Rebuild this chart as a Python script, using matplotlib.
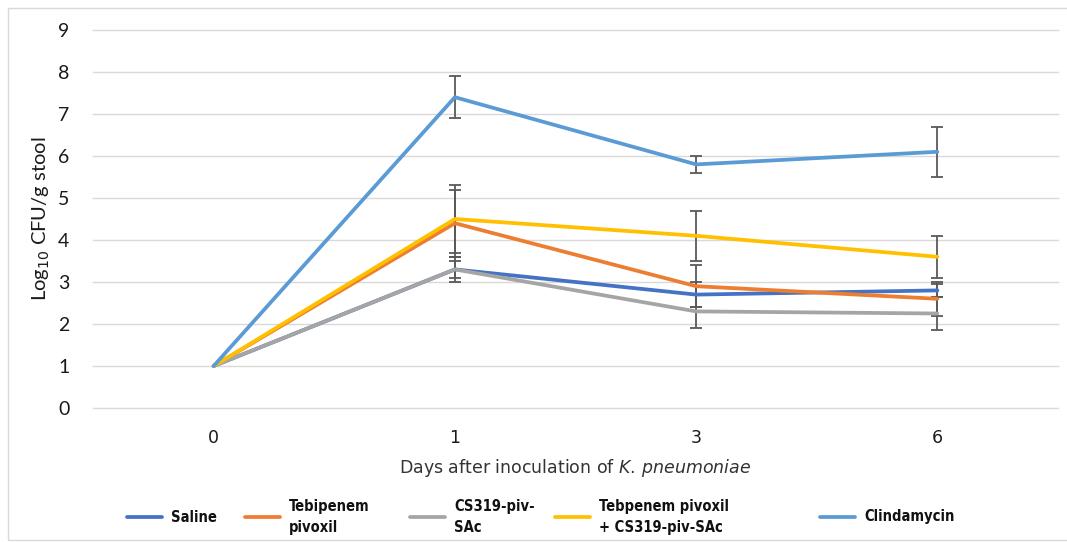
import matplotlib.pyplot as plt
import numpy as np
from matplotlib.lines import Line2D
from matplotlib.patches import Rectangle
from matplotlib import font_manager

days = ["0", "1", "3", "6"]

series_names = ["Saline", "Tebipenem\npivoxil", "CS319-piv-\nSAc",
                "Tebpenem pivoxil\n+ CS319-piv-SAc", "Clindamycin"]
saline = [1.0, 3.3, 2.7, 2.8]
saline_err = [0.0, 0.2, 0.3, 0.15]
tebipenem = [1.0, 4.4, 2.9, 2.6]
tebipenem_err = [0.0, 0.8, 0.5, 0.4]
cs319 = [1.0, 3.3, 2.3, 2.25]
cs319_err = [0.0, 0.3, 0.4, 0.4]
combo = [1.0, 4.5, 4.1, 3.6]
combo_err = [0.0, 0.8, 0.6, 0.5]
clinda = [1.0, 7.4, 5.8, 6.1]
clinda_err = [0.0, 0.5, 0.2, 0.6]

colors = ["#4472C4", "#ED7D31", "#A5A5A5", "#FFC000", "#5B9BD5"]
values = [saline, tebipenem, cs319, combo, clinda]
errors = [saline_err, tebipenem_err, cs319_err, combo_err, clinda_err]

names = {f.name for f in font_manager.fontManager.ttflist}
legend_family = "Liberation Sans Narrow" if "Liberation Sans Narrow" in names else "DejaVu Sans"

W, H = 1067, 542
fig = plt.figure(figsize=(W / 100, H / 100), dpi=100)
fig.add_artist(Rectangle((8 / W, 2 / H), 1.2, 1 - 10 / H, transform=fig.transFigure,
                         fill=False, edgecolor="#D9D9D9", linewidth=1.0))

ax = fig.add_axes([93 / W, 1 - 408 / H, 965 / W, 378 / H])
x = np.arange(len(days))

for vals, errs, col in zip(values, errors, colors):
    ax.errorbar(x[1:], vals[1:], yerr=errs[1:], fmt="none", ecolor="#595959",
                elinewidth=1.3, capsize=4, capthick=1.3, zorder=2)
for vals, col in zip(values, colors):
    ax.plot(x, vals, color=col, linewidth=2.7, zorder=3, solid_capstyle="round")

ax.set_xlim(-0.5, len(days) - 0.5)
ax.set_ylim(0, 9)
ax.set_yticks(range(0, 10))
ax.set_xticks(x)
ax.set_xticklabels(days)
ax.grid(axis="y", color="#D9D9D9", linewidth=1.0)
for gl in ax.get_ygridlines():
    gl.set_clip_on(False)
ax.set_axisbelow(True)
for s in ax.spines.values():
    s.set_visible(False)
ax.tick_params(length=0)
ax.tick_params(axis="y", labelsize=14, pad=17, labelcolor="#1a1a1a")
ax.tick_params(axis="x", labelsize=12.5, pad=15, labelcolor="#1a1a1a")
for lab in ax.get_yticklabels():
    lab.set_family("Lato")

ax.set_xlabel("Days after inoculation of $\\it{K.\\,pneumoniae}$", fontsize=12.5,
              color="#333333", labelpad=7)
ax.set_ylabel("Log$_{10}$ CFU/g stool", fontsize=14.5, family="Lato", color="#1a1a1a",
              labelpad=4)

# legend below the plot
legend_x = [127, 245, 410, 555, 820]
ly = 1 - 517 / H
for name, col, lx in zip(series_names, colors, legend_x):
    fig.add_artist(Line2D([lx / W, (lx + 35) / W], [ly, ly], transform=fig.transFigure,
                          color=col, linewidth=2.7, solid_capstyle="round"))
    fig.text((lx + 44) / W, ly, name, ha="left", va="center", fontsize=10.5,
             family=legend_family, fontstretch="condensed", fontweight="semibold",
             linespacing=1.55, color="#111111")

fig.savefig("out.png", dpi=100)
